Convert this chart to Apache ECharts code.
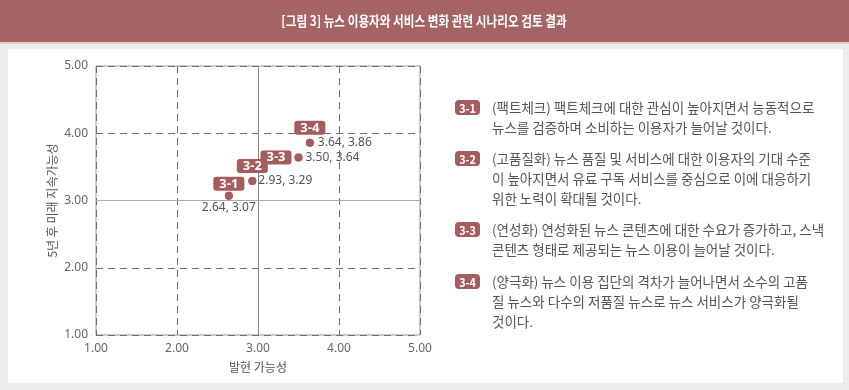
<!DOCTYPE html>
<html><head><meta charset="utf-8">
<script src="https://cdn.jsdelivr.net/npm/echarts@6/dist/echarts.min.js"></script>
<style>html,body{margin:0;padding:0;background:#ececec;}#c{width:849px;height:390px;}</style>
</head><body><div id="c"></div>
<script>
const titleText = '[그림 3] 뉴스 이용자와 서비스 변화 관련 시나리오 검토 결과';
const xAxisName = '발현 가능성';
const yAxisName = '5년 후 미래 지속가능성';
const tickLabels = ['1.00','2.00','3.00','4.00','5.00'];
const scenarioIds = ['3-1','3-2','3-3','3-4'];
const feasibility = [2.64, 2.93, 3.50, 3.64];
const sustainability = [3.07, 3.29, 3.64, 3.86];
const descriptions = [
  ['(팩트체크) 팩트체크에 대한 관심이 높아지면서 능동적으로', '뉴스를 검증하며 소비하는 이용자가 늘어날 것이다.'],
  ['(고품질화) 뉴스 품질 및 서비스에 대한 이용자의 기대 수준', '이 높아지면서 유료 구독 서비스를 중심으로 이에 대응하기', '위한 노력이 확대될 것이다.'],
  ['(연성화) 연성화된 뉴스 콘텐츠에 대한 수요가 증가하고, 스낵', '콘텐츠 형태로 제공되는 뉴스 이용이 늘어날 것이다.'],
  ['(양극화) 뉴스 이용 집단의 격차가 늘어나면서 소수의 고품', '질 뉴스와 다수의 저품질 뉴스로 뉴스 서비스가 양극화될', '것이다.']
];

const RED = '#a55c5c';
const FONT = '"Noto Sans CJK KR", "Noto Sans", sans-serif';
const NARROW = '"Liberation Sans Narrow", "Noto Sans", sans-serif';
// label placement per point (layout only)
const badgeLayout = [
  {position:'top', distance:1},
  {position:'top', distance:4},
  {position:'left', distance:3},
  {position:'top', distance:4}
];
const valueLayout = [
  {position:'bottom', distance:2},
  {position:'right', distance:2},
  {position:'right', distance:3},
  {position:'right', distance:4}
];

const pts = scenarioIds.map((id,i)=>[feasibility[i], sustainability[i]]);

const graphics = [
  {type:'rect', shape:{x:0,y:0,width:849,height:42}, style:{fill:'#a56464'}, silent:true, z:-10},
  {type:'rect', shape:{x:0,y:42,width:849,height:2}, style:{fill:'#e7c9c9'}, silent:true, z:-10},
  {type:'rect', shape:{x:8,y:49,width:835,height:334}, style:{fill:'#ffffff'}, silent:true, z:-10},
  {type:'text', x:424, y:21, scaleX:0.83, style:{text:titleText, fill:'#ffffff', font:'bold 14px '+FONT, align:'center', verticalAlign:'middle'}}
];
const rowTops = [98, 149, 220, 272];
descriptions.forEach((lines,i)=>{
  const y = rowTops[i];
  graphics.push({type:'rect', shape:{x:455,y:y+2,width:25,height:15,r:4}, style:{fill:RED}, silent:true});
  graphics.push({type:'text', x:467.5, y:y+10, scaleX:0.9, style:{text:scenarioIds[i], fill:'#fff', font:'bold 12px '+FONT, align:'center', verticalAlign:'middle'}});
  graphics.push({type:'text', x:492, y:y, style:{text:lines.join('\n'), fill:'#555555', font:'13.5px '+FONT, lineHeight:20}});
});

const chart = echarts.init(document.getElementById('c'));
chart.setOption({
  animation:false,
  backgroundColor:'#ececec',
  graphic: graphics,
  grid:{left:96, right:429, top:66, bottom:55, show:true, borderColor:'#999', borderWidth:1},
  xAxis:{type:'value', min:1, max:5, interval:1,
    name:xAxisName, nameLocation:'middle', nameGap:26, nameTextStyle:{color:'#555', fontSize:12, fontFamily:FONT},
    axisLine:{show:false}, axisTick:{show:false},
    axisLabel:{color:'#666', fontSize:12, fontFamily:NARROW, margin:8, formatter:(v)=>tickLabels[Math.round(v)-1]},
    splitLine:{lineStyle:{type:[7,5], color:'#6f6f6f', width:1}}},
  yAxis:{type:'value', min:1, max:5, interval:1,
    name:yAxisName, nameLocation:'middle', nameGap:38, nameTextStyle:{color:'#555', fontSize:12, fontFamily:FONT},
    axisLine:{show:false}, axisTick:{show:false},
    axisLabel:{color:'#666', fontSize:12, fontFamily:NARROW, margin:8, formatter:(v)=>tickLabels[Math.round(v)-1]},
    splitLine:{lineStyle:{type:[7,5], color:'#6f6f6f', width:1}}},
  series:[
    {type:'scatter', symbolSize:8, itemStyle:{color:RED, opacity:1}, z:5,
      data: pts.map((p,i)=>({value:p, label:{show:true, position:valueLayout[i].position, distance:valueLayout[i].distance,
        formatter: feasibility[i].toFixed(2)+', '+sustainability[i].toFixed(2), color:'#555', fontSize:12, fontFamily:NARROW}})),
      markLine:{silent:true, symbol:'none', label:{show:false}, lineStyle:{type:'solid', color:'#888', width:1},
        data:[{xAxis:3},{yAxis:3, lineStyle:{color:'#aaa'}}]}
    },
    {type:'scatter', symbolSize:8, itemStyle:{color:RED, opacity:1}, z:6,
      data: pts.map((p,i)=>({value:p, label:{show:true, position:badgeLayout[i].position, distance:badgeLayout[i].distance,
        formatter: scenarioIds[i], color:'#fff', fontWeight:'bold', fontSize:13, lineHeight:13, fontFamily:NARROW,
        backgroundColor:RED, borderRadius:3, padding:[1,6,0,6], opacity:1}}))
    }
  ]
});
</script></body></html>
